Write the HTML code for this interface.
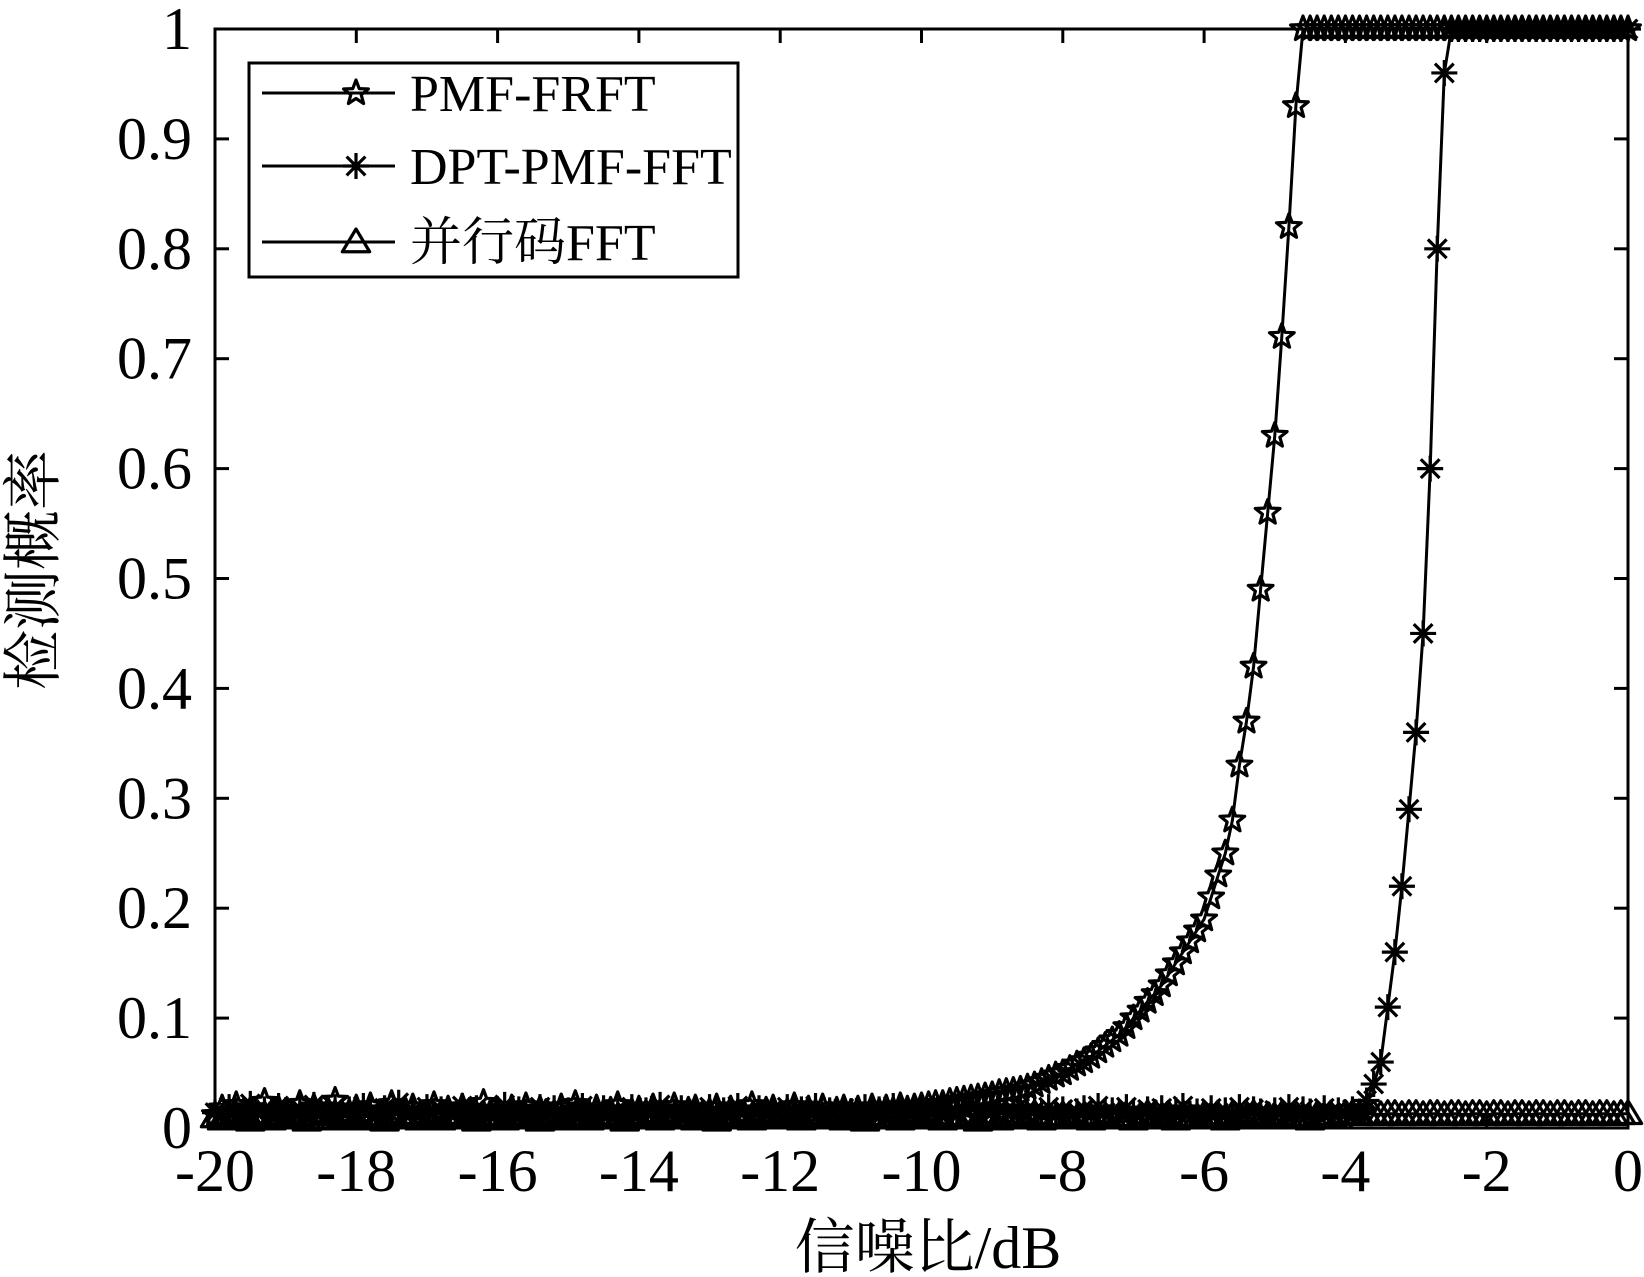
<!DOCTYPE html>
<html><head><meta charset="utf-8"><style>
html,body{margin:0;padding:0;background:#fff}
svg{display:block}
text{font-family:"Liberation Serif","Noto Serif CJK SC","Noto Sans CJK SC",serif;fill:#000}
</style></head><body>
<svg id="chart" width="1644" height="1277" viewBox="0 0 1644 1277" xmlns="http://www.w3.org/2000/svg">
<rect width="1644" height="1277" fill="#fff"/>
<g id="series"></g>
<g id="axes"></g>
<g>
<rect x="249" y="63" width="489" height="214" fill="#fff" stroke="#000" stroke-width="3"/>
<g>
<line x1="262" y1="93" x2="395" y2="93" stroke="#000" stroke-width="3"/>
<g id="lg1"></g>
<text x="410" y="111" font-size="52">PMF-FRFT</text>
</g>
<g>
<line x1="262" y1="166" x2="395" y2="166" stroke="#000" stroke-width="3"/>
<g id="lg2"></g>
<text x="410" y="184" font-size="52">DPT-PMF-FFT</text>
</g>
<g>
<line x1="262" y1="242" x2="395" y2="242" stroke="#000" stroke-width="3"/>
<g id="lg3"></g>
<text x="410" y="260" font-size="52">并行码FFT</text>
</g>
</g>
<text x="928" y="1268" font-size="60" text-anchor="middle">信噪比/dB</text>
<text x="0" y="0" font-size="60" text-anchor="middle" transform="translate(54,570) rotate(-90)">检测概率</text>
</svg>
<script>
const xTicks = [-20,-18,-16,-14,-12,-10,-8,-6,-4,-2,0];
const xTickLabels = ["-20","-18","-16","-14","-12","-10","-8","-6","-4","-2","0"];
const yTicks = [0,0.1,0.2,0.3,0.4,0.5,0.6,0.7,0.8,0.9,1];
const yTickLabels = ["0","0.1","0.2","0.3","0.4","0.5","0.6","0.7","0.8","0.9","1"];
const snrStart = -20, snrStep = 0.1;
const pmfFrft = [
.012,.018,.009,.021,.014,.016,.011,.024,.013,.017,
.015,.010,.022,.013,.019,.012,.016,.025,.011,.014,
.018,.013,.020,.010,.016,.022,.012,.015,.019,.011,
.014,.021,.013,.017,.010,.019,.015,.012,.023,.014,
.016,.011,.018,.013,.020,.012,.017,.014,.010,.019,
.013,.022,.015,.011,.018,.014,.016,.021,.012,.015,
.017,.011,.019,.014,.013,.020,.012,.016,.018,.010,
.015,.019,.012,.017,.014,.011,.021,.013,.016,.018,
.012,.015,.020,.011,.017,.014,.019,.013,.016,.018,
.014,.017,.012,.019,.015,.018,.016,.020,.017,.019,
.020,.021,.022,.022,.024,.025,.026,.027,.028,.029,
.030,.032,.033,.034,.035,.037,.039,.042,.045,.048,
.050,.054,.058,.061,.065,.070,.075,.080,.085,.092,
.100,.107,.115,.122,.130,.140,.150,.160,.170,.180,
.190,.210,.230,.250,.280,.330,.370,.420,.490,.560,
.630,.720,.820,.930,1,
1,1,1,1,1,1,1,1,1,1,1,1,1,1,1,1,1,1,1,1,1,1,1,1,1,1,1,1,1,1,1,1,1,1,1,1,1,1,1,1,1,1,1,1,1,1];
const dptPmfFft = [
.014,.011,.019,.016,.010,.022,.013,.017,.012,.020,
.016,.013,.018,.011,.021,.015,.012,.019,.014,.017,
.011,.020,.015,.013,.018,.012,.023,.014,.016,.011,
.019,.013,.017,.015,.012,.020,.014,.018,.011,.016,
.013,.021,.012,.017,.015,.010,.019,.014,.018,.013,
.016,.012,.020,.015,.011,.018,.014,.017,.013,.019,
.012,.016,.014,.021,.013,.015,.018,.011,.017,.014,
.019,.012,.016,.013,.020,.015,.011,.018,.014,.016,
.013,.019,.012,.017,.015,.020,.011,.016,.014,.018,
.015,.012,.019,.013,.017,.011,.020,.014,.016,.013,
.018,.014,.011,.019,.015,.013,.017,.020,.012,.016,
.014,.018,.013,.015,.021,.012,.016,.014,.019,.011,
.017,.013,.015,.018,.012,.020,.014,.016,.013,.019,
.015,.011,.017,.014,.018,.012,.016,.020,.013,.015,
.012,.018,.014,.016,.011,.019,.013,.017,.015,.012,
.016,.014,.019,.013,.017,.015,.012,.018,.014,.016,
.013,.017,
.015,.025,.040,.060,.110,.160,.220,.290,.360,.450,.600,.800,.960,
1,1,1,1,1,1,1,1,1,1,1,1,1,1,1,1,1,1,1,1,1,1,1,1,1,1];
const parallelFft = [
.010,.008,.012,.009,.011,.007,.013,.010,.008,.012,
.009,.011,.010,.007,.012,.009,.013,.008,.010,.011,
.008,.012,.009,.010,.007,.011,.013,.009,.010,.008,
.012,.010,.008,.011,.009,.013,.010,.007,.012,.009,
.011,.008,.010,.012,.009,.010,.007,.011,.013,.008,
.010,.012,.009,.008,.011,.010,.012,.009,.007,.011,
.009,.013,.010,.008,.012,.010,.009,.011,.008,.012,
.010,.007,.011,.009,.012,.010,.008,.013,.009,.011,
.012,.009,.010,.008,.011,.013,.009,.010,.012,.008,
.011,.010,.007,.012,.009,.011,.010,.008,.013,.010,
.009,.012,.010,.008,.011,.009,.012,.010,.007,.011,
.010,.008,.012,.011,.009,.010,.013,.008,.011,.009,
.012,.010,.009,.011,.008,.012,.010,.009,.011,.010,
.008,.011,.013,.009,.010,.012,.008,.011,.010,.009,
.012,.010,.011,.008,.012,.009,.010,.013,.009,.011,
.010,.012,.009,.011,.010,.008,.012,.010,.011,.009,
.013,.013,.012,.013,.013,.012,.013,.013,.012,.013,
.013,.012,.013,.013,.012,.013,.013,.012,.013,.013,
.012,.013,.013,.012,.013,.013,.012,.013,.013,.012,
.013,.013,.012,.013,.013,.012,.013,.013,.012,.013,
.013];

const L=215,R=1628,T=29,B=1128;
const NS="http://www.w3.org/2000/svg";
function xs(v){return L+(v+20)/20*(R-L);}
function ys(v){return B-v*(B-T);}
function mk(tag,attrs,parent){const e=document.createElementNS(NS,tag);for(const k in attrs)e.setAttribute(k,attrs[k]);parent.appendChild(e);return e;}
function star(cx,cy,r,parent){
  let p=[];for(let i=0;i<10;i++){const a=-Math.PI/2+i*Math.PI/5;const rr=i%2?r*0.42:r;p.push((cx+rr*Math.cos(a)).toFixed(1)+","+(cy+rr*Math.sin(a)).toFixed(1));}
  return mk("polygon",{points:p.join(" "),fill:"none",stroke:"#000","stroke-width":3.2,"stroke-linejoin":"round"},parent);
}
function aster(cx,cy,r,parent){
  const d=r*0.72;
  return mk("path",{d:`M${cx-r},${cy}H${cx+r}M${cx},${cy-r}V${cy+r}M${cx-d},${cy-d}L${cx+d},${cy+d}M${cx-d},${cy+d}L${cx+d},${cy-d}`,stroke:"#000","stroke-width":3.2,fill:"none"},parent);
}
function tri(cx,cy,r,parent){
  return mk("polygon",{points:`${cx},${cy-r} ${cx+r*1.05},${cy+r*0.75} ${cx-r*1.05},${cy+r*0.75}`,fill:"none",stroke:"#000","stroke-width":3.2,"stroke-linejoin":"round"},parent);
}
const sg=document.getElementById("series");
const defs=[[pmfFrft,star,"pmf-frft"],[dptPmfFft,aster,"dpt-pmf-fft"],[parallelFft,tri,"parallel-code-fft"]];
defs.forEach(([data,fn,name])=>{
  const g=mk("g",{},sg);
  
  
  const pts=data.map((v,i)=>xs(snrStart+i*snrStep).toFixed(1)+","+ys(v).toFixed(1));
  const pl=mk("polyline",{points:pts.join(" "),fill:"none",stroke:"#000","stroke-width":3},g);
  
  
  data.forEach((v,i)=>{
    const m=fn(xs(snrStart+i*snrStep),ys(v),13,g);
    
    
  });
});
star(356,93,13,document.getElementById("lg1"));
aster(356,166,13,document.getElementById("lg2"));
tri(356,242,13,document.getElementById("lg3"));
const ax=document.getElementById("axes");
const frame=mk("rect",{x:L,y:T,width:R-L,height:B-T,fill:"none",stroke:"#000","stroke-width":3},ax);


xTicks.forEach((v,i)=>{
  const x=xs(v);
  mk("line",{x1:x,y1:B,x2:x,y2:B-14,stroke:"#000","stroke-width":3},ax);
  mk("line",{x1:x,y1:T,x2:x,y2:T+14,stroke:"#000","stroke-width":3},ax);
  const t=mk("text",{x:x,y:1191,"font-size":60,"text-anchor":"middle"},ax);
  t.textContent=xTickLabels[i];
  
  
});
yTicks.forEach((v,i)=>{
  const y=ys(v);
  mk("line",{x1:L,y1:y,x2:L+14,y2:y,stroke:"#000","stroke-width":3},ax);
  mk("line",{x1:R,y1:y,x2:R-14,y2:y,stroke:"#000","stroke-width":3},ax);
  const t=mk("text",{x:192,y:y+20,"font-size":60,"text-anchor":"end"},ax);
  t.textContent=yTickLabels[i];
  
  
});
</script>
</body></html>
